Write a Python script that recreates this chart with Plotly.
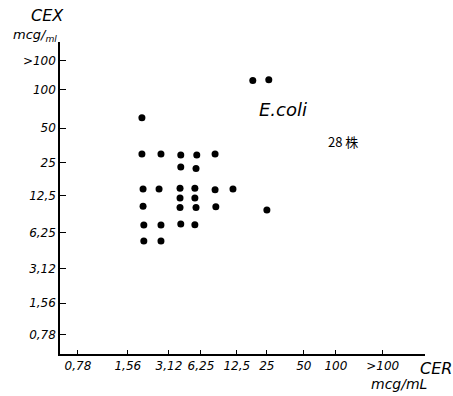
import plotly.graph_objects as go

# Dilution grade labels (CER on x, CEX on y)
x_tick_labels = ["0,78", "1,56", "3,12", "6,25", "12,5", "25", "50", "100", ">100"]
y_tick_labels = ["0,78", "1,56", "3,12", "6,25", "12,5", "25", "50", "100", ">100"]
# Hand-drawn tick positions along each axis (grade units)
x_tick_pos = [0, 1.31, 2.39, 3.23, 4.17, 4.96, 5.93, 6.77, 8]
y_tick_pos = [0, 0.93, 1.93, 2.98, 4.06, 5.02, 6.04, 7.15, 8]

# Strains: CER MIC (x, grade units) vs CEX MIC (y, grade units)
cer = [1.68,
       1.68, 2.18, 2.70, 3.12, 3.60,
       2.70, 3.10,
       1.71, 2.13, 2.68, 3.07, 3.60, 4.07,
       2.68, 3.07,
       1.71, 2.68, 3.10, 3.62, 4.96,
       1.73, 2.18, 2.70, 3.07,
       1.73, 2.18,
       4.59, 5.01]
cex = [6.34,
       5.28, 5.28, 5.25, 5.25, 5.28,
       4.90, 4.86,
       4.26, 4.26, 4.28, 4.28, 4.24, 4.26,
       4.00, 4.00,
       3.76, 3.72, 3.72, 3.74, 3.65,
       3.21, 3.21, 3.24, 3.22,
       2.74, 2.74,
       7.43, 7.45]

fig = go.Figure()
fig.add_trace(go.Scatter(x=cer, y=cex, mode="markers",
                         marker=dict(color="black", size=7),
                         showlegend=False, hoverinfo="skip"))

tickfont = dict(family="DejaVu Sans", size=12, color="black", style="italic")
fig.update_layout(
    width=453, height=396,
    margin=dict(l=60, r=28, t=42, b=42),
    paper_bgcolor="white", plot_bgcolor="white",
    xaxis=dict(range=[-0.47, 9.11], tickmode="array", tickvals=x_tick_pos,
               ticktext=x_tick_labels, ticks="inside", ticklen=4,
               tickcolor="black", tickwidth=1, showgrid=False, zeroline=False,
               showline=True, linecolor="black", linewidth=1.5,
               tickfont=tickfont, fixedrange=True),
    yaxis=dict(range=[-0.555, 8.55], tickmode="array", tickvals=y_tick_pos,
               ticktext=y_tick_labels, ticks="inside", ticklen=6,
               tickcolor="black", tickwidth=1, showgrid=False, zeroline=False,
               showline=True, linecolor="black", linewidth=1.5,
               tickfont=tickfont, fixedrange=True),
)

def note(text, x, y, size, xanchor="left"):
    fig.add_annotation(text=text, x=x, y=y, xref="paper", yref="paper",
                       showarrow=False, xanchor=xanchor, yanchor="middle",
                       font=dict(family="DejaVu Sans", size=size, color="black",
                                 style="italic"))

# axis titles (paper coordinates derived from plot area 365x312 px)
fig.add_annotation(text="CEX", x=-0.085, y=1.085, xref="paper", yref="paper",
                   showarrow=False, xanchor="left", yanchor="middle",
                   font=dict(family="DejaVu Sans", size=16, color="black", style="italic"))
fig.add_annotation(text="mcg/<sub>ml</sub>", x=-0.068, y=1.02, xref="paper", yref="paper",
                   showarrow=False, xanchor="center", yanchor="middle",
                   font=dict(family="DejaVu Sans", size=13, color="black", style="italic"))
fig.add_annotation(text="CER", x=1.03, y=-0.045, xref="paper", yref="paper",
                   showarrow=False, xanchor="center", yanchor="middle",
                   font=dict(family="DejaVu Sans", size=16, color="black", style="italic"))
fig.add_annotation(text="mcg/mL", x=0.93, y=-0.095, xref="paper", yref="paper",
                   showarrow=False, xanchor="center", yanchor="middle",
                   font=dict(family="DejaVu Sans", size=14, color="black", style="italic"))
fig.add_annotation(text="E.coli", x=0.54, y=0.785, xref="paper", yref="paper",
                   showarrow=False, xanchor="left", yanchor="middle",
                   font=dict(family="DejaVu Sans", size=18, color="black", style="italic"))
fig.add_annotation(text="28 株", x=0.73, y=0.68, xref="paper", yref="paper",
                   showarrow=False, xanchor="left", yanchor="middle",
                   font=dict(family="Noto Sans CJK JP", size=13, color="black"))

fig.write_html("out.html")
